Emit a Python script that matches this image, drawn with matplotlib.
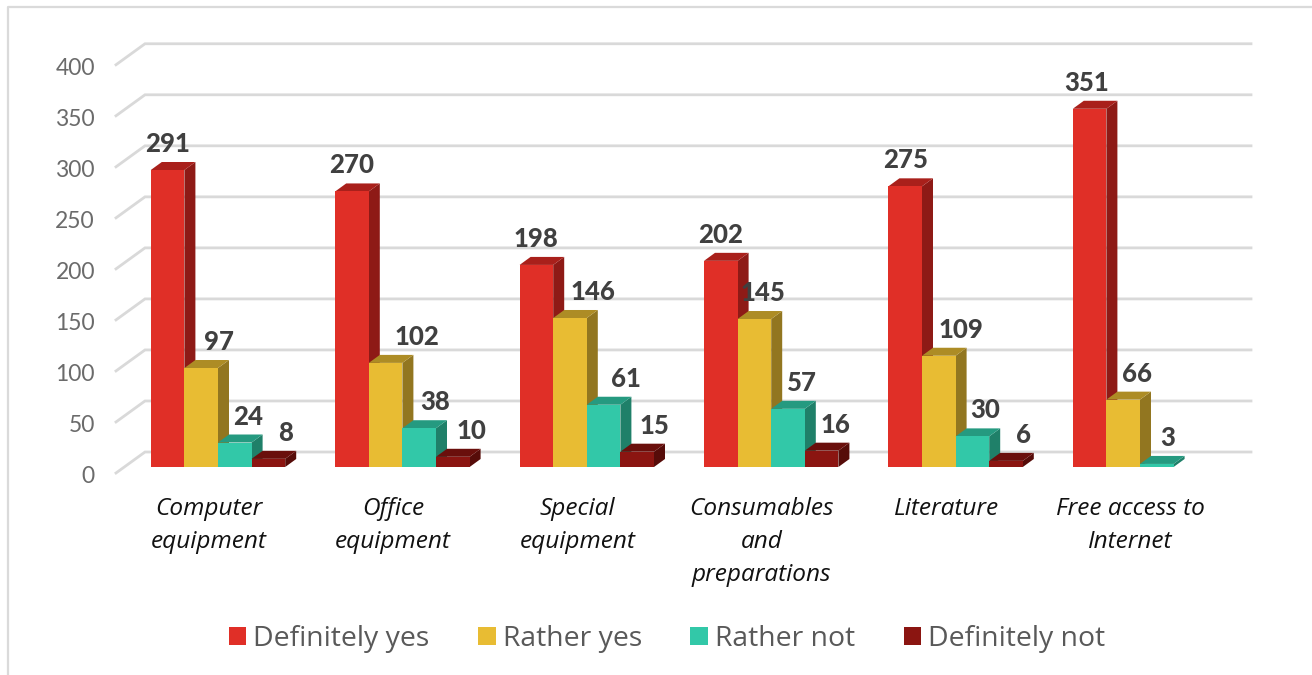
import matplotlib
matplotlib.use("Agg")
import matplotlib.pyplot as plt
from matplotlib.patches import Polygon, Patch
from matplotlib.lines import Line2D
from matplotlib.transforms import ScaledTranslation

categories = ["Computer\nequipment", "Office\nequipment", "Special\nequipment",
              "Consumables\nand\npreparations", "Literature", "Free access to\nInternet"]
series_names = ["Definitely yes", "Rather yes", "Rather not", "Definitely not"]
definitely_yes = [291, 270, 198, 202, 275, 351]
rather_yes = [97, 102, 146, 145, 109, 66]
rather_not = [24, 38, 61, 57, 30, 3]
definitely_not = [8, 10, 15, 16, 6, None]
y_ticks = [0, 50, 100, 150, 200, 250, 300, 350, 400]

front = ["#E02F27", "#E8BC33", "#32C8A8", "#8B1511"]
top = ["#A9201B", "#AD8C25", "#259A80", "#6A0F0C"]
side = ["#8E1A16", "#927620", "#1F8069", "#560C09"]

W, H = 1312, 675
PX_GROUP = 184.4
PX_Y = 1.0206
X0 = 218.0          # pixel of first group centre
Y0 = 467.0          # pixel of value 0 at bars' front
BAR = 33.6 / PX_GROUP

fig = plt.figure(figsize=(W / 100, H / 100), dpi=100, facecolor="white")
L, R, T, B = 116, 1260, 30, 490
ax = fig.add_axes([L / W, 1 - B / H, (R - L) / W, (B - T) / H])
ax.set_xlim((L - X0) / PX_GROUP, (R - X0) / PX_GROUP)
ax.set_ylim((Y0 - B) / PX_Y, (Y0 - T) / PX_Y)
ax.patch.set_visible(False)
for s in ax.spines.values():
    s.set_visible(False)

# outer frame
grid_c = "#D9D9D9"
fig.add_artist(Line2D([8 / W, 8 / W, 1], [0, 1 - 7 / H, 1 - 7 / H], color="#DADADA", lw=1.6,
                      transform=fig.transFigure))

# gridlines: wall stub + back line
wx0 = (116 - X0) / PX_GROUP
wx1 = (145 - X0) / PX_GROUP
wx2 = (1251 - X0) / PX_GROUP
off_front = -6 / PX_Y
off_back = 15 / PX_Y
for v in y_ticks:
    ax.plot([wx0, wx1, wx2], [v + off_front, v + off_back, v + off_back], color=grid_c,
            lw=2.0, solid_joinstyle="miter", zorder=1, clip_on=False)

# bars
dx = 11 / PX_GROUP
dy = 8 / PX_Y
all_series = [definitely_yes, rather_yes, rather_not, definitely_not]
z = 2
for i in range(len(categories)):
    for j, vals in enumerate(all_series):
        v = vals[i]
        if v is None:
            continue
        x0 = i + (j - 2) * BAR
        x1 = x0 + BAR
        ax.add_patch(Polygon([(x1, 0), (x1 + dx, dy), (x1 + dx, v + dy), (x1, v)],
                             fc=side[j], ec="none", zorder=z))
        ax.add_patch(Polygon([(x0, v), (x1, v), (x1 + dx, v + dy), (x0 + dx, v + dy)],
                             fc=top[j], ec="none", zorder=z))
        ax.bar(x0, v, width=BAR, align="edge", color=front[j], linewidth=0, zorder=z + 0.5)
        z += 1

# value labels (hand-placed in the original)
label_shift = [
    [0, 0, 0, 0, 0, -3],
    [18, 31, 23, 9, 22, 14],
    [13, 16, 22, 14, 13, 11],
    [17, 19, 17, 14, 17, 0],
]
for j, vals in enumerate(all_series):
    for i, v in enumerate(vals):
        if v is None:
            continue
        xc = i + (j - 1.5) * BAR
        ax.annotate(str(v), (xc, v), xytext=(label_shift[j][i] * 0.72, 26 * 0.72),
                    textcoords="offset points", ha="center", va="center", fontsize=18.5,
                    fontweight="black", family="Lato", color="#404040", zorder=200)

# axes ticks as labels
ax.set_yticks(y_ticks)
ax.set_xticks(range(len(categories)))
ax.set_xticklabels(categories, fontsize=17.6, style="italic", family="Open Sans", color="#111111",
                   linespacing=1.49)
ax.set_yticklabels([str(v) for v in y_ticks], fontsize=16.5, family="Lato", color="#6B6B6B")
ax.tick_params(axis="both", length=0)
ax.tick_params(axis="y", pad=21 * 0.72)
ax.tick_params(axis="x", pad=5)
yshift = ScaledTranslation(0, -7.5 / 100, fig.dpi_scale_trans)
for t in ax.get_yticklabels():
    t.set_transform(t.get_transform() + yshift)
xshift = ScaledTranslation(-9.5 / 100, 0, fig.dpi_scale_trans)
for t in ax.get_xticklabels():
    t.set_transform(t.get_transform() + xshift)

handles = [Patch(fc=c, ec="none") for c in front]
fig.legend(handles, series_names, loc="center", bbox_to_anchor=(667 / W, 1 - 639 / H), ncol=4,
           frameon=False, handlelength=0.62, handleheight=0.62, handletextpad=0.25,
           columnspacing=1.71, prop={"family": "Open Sans", "size": 20.4}, labelcolor="#595959")

fig.savefig("out.png", dpi=100)
